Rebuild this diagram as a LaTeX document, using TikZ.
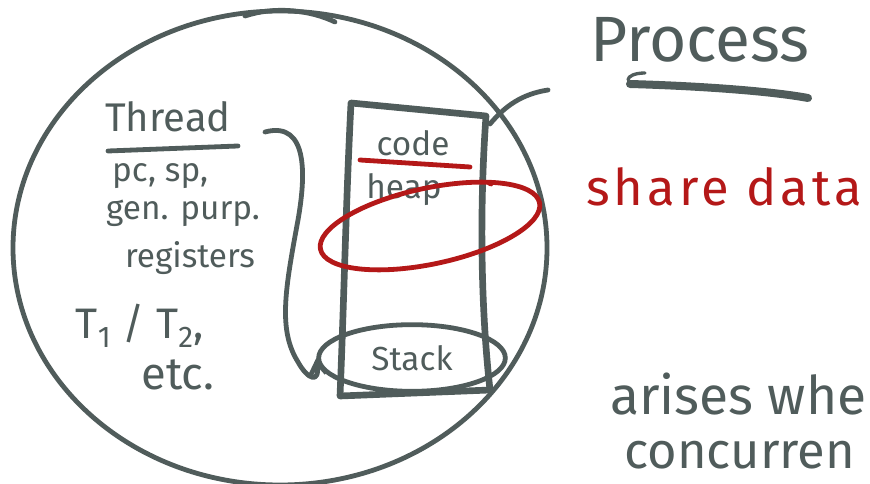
\documentclass[tikz,border=0pt]{standalone}
\usepackage{fontspec}
\setmainfont{Fira Sans}
\definecolor{inkgray}{RGB}{80, 92, 91}
\definecolor{inkred}{RGB}{180, 24, 24}
\usetikzlibrary{arrows.meta, shapes.geometric}

\begin{document}
\begin{tikzpicture}[x=0.75pt, y=-0.75pt,
  ink/.style={draw=inkgray, line width=3.6pt, line cap=round, line join=round},
  redink/.style={draw=inkred, line width=3.6pt, line cap=round, line join=round},
  hand/.style={text=inkgray, inner sep=0pt, font=\fontsize{25}{28}\selectfont},
  redhand/.style={text=inkred, inner sep=0pt, font=\fontsize{38}{40}\selectfont\addfontfeature{LetterSpace=8}}
]
  \useasboundingbox (0,0) rectangle (870,484);
  \clip (0,0) rectangle (870,484);

  % process circle
  \draw[ink] (280,248) ellipse [x radius=267, y radius=237];
  \draw[ink] (245,16) .. controls (275,6) and (310,10) .. (335,22);

  % title
  \node[hand, font=\fontsize{48}{52}\selectfont] (process) at (700,40) {Process};
  \draw[ink, line width=2.5pt] (645,73) .. controls (635,73) and (628,76) .. (628,80);
  \draw[ink, line width=6pt] (630,84) .. controls (700,86) and (770,91) .. (808,98);
  \coordinate (ptr) at (548,90);

  % memory layout
  \draw[ink, line width=5pt] (351,103) -- (486,116)
    .. controls (480,200) and (480,300) .. (490,390) -- (340,396)
    .. controls (344,300) and (346,200) .. (351,103) -- cycle;
  \coordinate (boxtr) at (490,124);
  \draw[ink] (boxtr) .. controls (505,106) and (522,94) .. (ptr);
  \node[hand] (code) at (413,143) {code};
  \draw[redink] (360,160) -- (470,167);
  \node[hand] (heap) at (404,190) {heap};
  \draw[redink, rotate around={12:(430,226)}] (430,226) ellipse [x radius=112, y radius=38];
  \draw[redink] (489,183) -- (491,184);
  \node[hand, ellipse, draw=inkgray, line width=3.6pt, minimum width=140pt,
    minimum height=50pt] (stack) at (412,358) {Stack};

  % thread
  \node[hand, font=\fontsize{30}{34}\selectfont] (thread) at (168,117) {Thread};
  \draw[ink] (108,151) -- (238,146);
  \node[hand] (regs1) at (160,176) {pc, sp,};
  \node[hand] (regs2) at (183,213) {gen. purp.};
  \node[hand] (regs3) at (190,258) {registers};
  \node[hand, font=\fontsize{32}{34}\selectfont] (tlist) at (140,326) {T\textsubscript{1} / T\textsubscript{2},};
  \node[hand, font=\fontsize{34}{36}\selectfont] (etc) at (178,375) {etc.};
  \coordinate (thrtail) at (265,132);
  \draw[ink, -{Straight Barb[length=9pt, width=12pt]}] (thrtail)
    .. controls (310,120) and (305,180) .. (298,220)
    .. controls (285,290) and (278,330) .. (298,362)
    .. controls (308,380) and (320,384) .. (stack.west);

  % notes
  \node[redhand, anchor=west] (share) at (586,187) {share data};
  \node[hand, anchor=west, font=\fontsize{40}{44}\selectfont] (arises) at (610,394) {arises whe};
  \node[hand, anchor=west, font=\fontsize{38}{42}\selectfont] (concur) at (624,455) {concurren};
\end{tikzpicture}
\end{document}
